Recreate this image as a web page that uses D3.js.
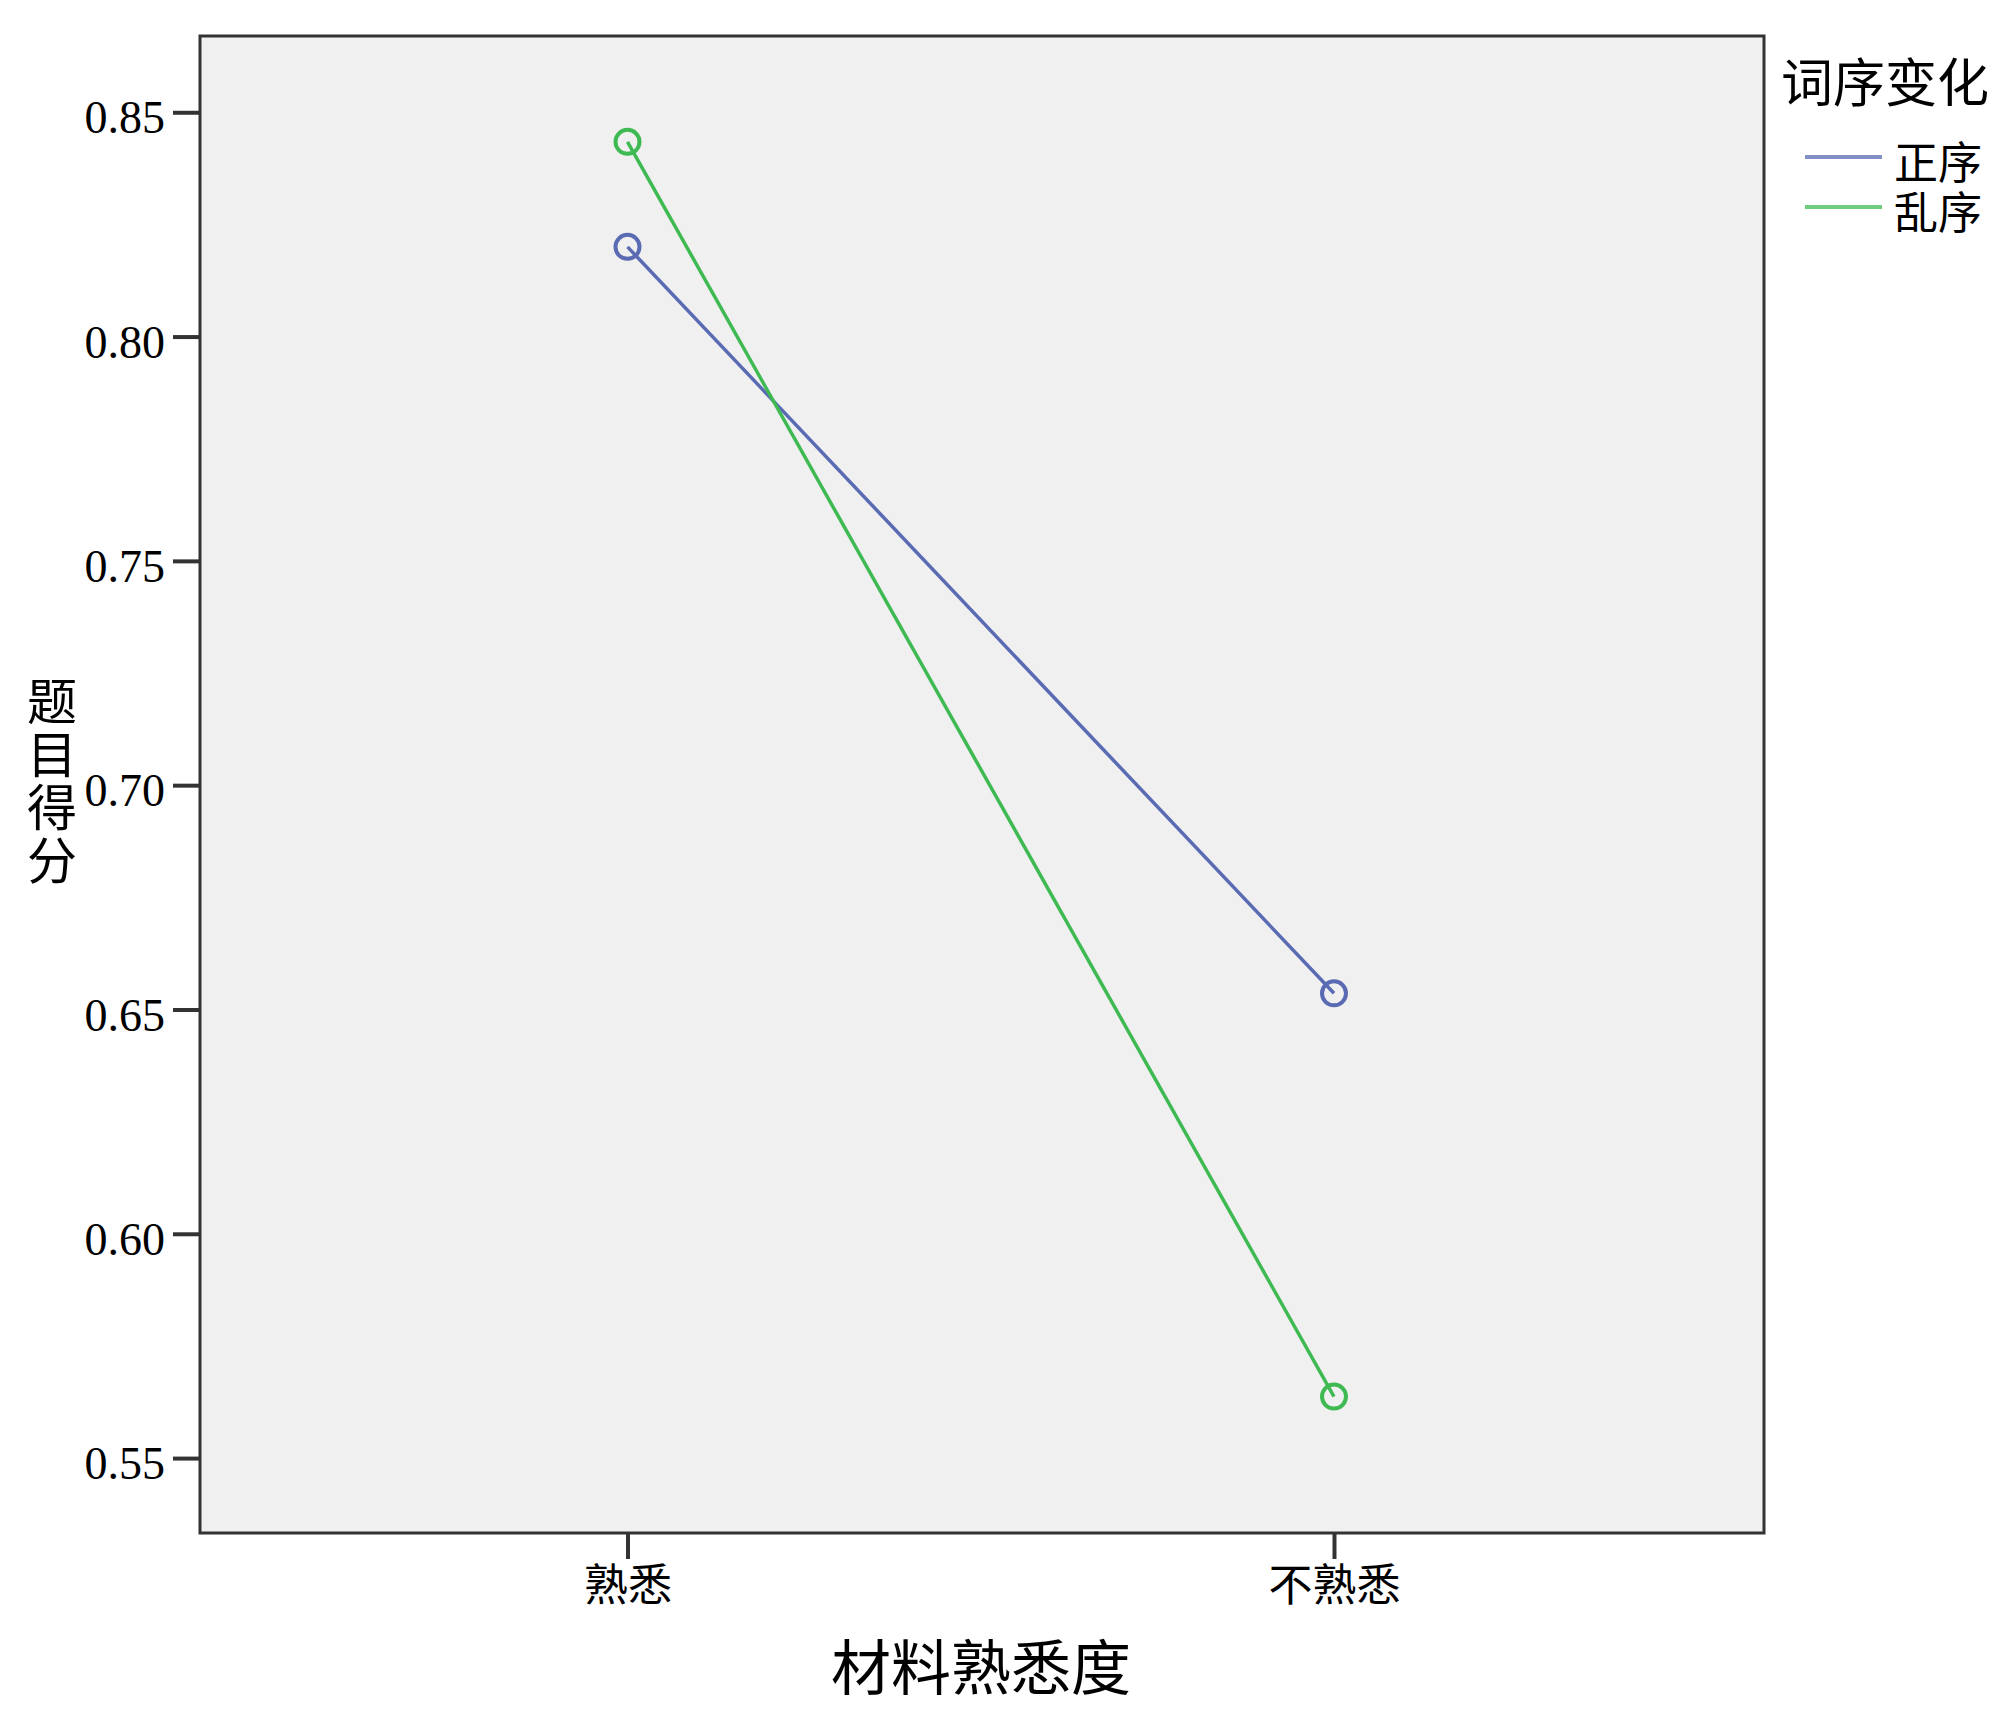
<!DOCTYPE html>
<html><head><meta charset="utf-8">
<script src="https://cdn.jsdelivr.net/npm/d3@7"></script>
<style>
body{margin:0;background:#fff;}
svg{display:block;}
</style></head>
<body>
<svg id="chart" width="2000" height="1710"></svg>
<script>
const categories = ["熟悉", "不熟悉"];
const seriesNames = ["正序", "乱序"];
const seriesZheng = [0.820, 0.6536];
const seriesLuan = [0.8434, 0.5637];
const yTicks = [0.55, 0.60, 0.65, 0.70, 0.75, 0.80, 0.85];
const colors = ["#5a6bb3", "#3fba52"];
const legendTitle = "词序变化";
const xTitle = "材料熟悉度";
const yTitle = "题目得分";

const svg = d3.select("#chart");
const L = 200, T = 36, R = 1764, B = 1533;
const cjk = "'Noto Sans CJK SC', sans-serif";
const serif = "'Liberation Serif', 'Times New Roman', serif";

const x = d3.scalePoint().domain(categories).range([627.5, 1334]);
const y = d3.scaleLinear().domain([0.5333, 0.867]).range([B, T]);

svg.append("rect").attr("x", L).attr("y", T).attr("width", R - L).attr("height", B - T)
  .attr("fill", "#f0f0f0").attr("stroke", "#333").attr("stroke-width", 3);

// Y axis
const ya = svg.append("g").attr("transform", `translate(${L},0)`)
  .call(d3.axisLeft(y).tickValues(yTicks).tickFormat(d3.format(".2f")).tickSize(27).tickPadding(8));
ya.select(".domain").remove();
ya.selectAll(".tick line").attr("stroke", "#333").attr("stroke-width", 4);
ya.selectAll(".tick text").attr("font-family", serif).attr("font-size", 46).attr("fill", "#000")
  .attr("dy", "0.45em");

// X axis
const xa = svg.append("g").attr("transform", `translate(0,${B})`)
  .call(d3.axisBottom(x).tickSize(26).tickPadding(6));
xa.select(".domain").remove();
xa.selectAll(".tick line").attr("stroke", "#333").attr("stroke-width", 4);
xa.selectAll(".tick text").attr("font-family", cjk).attr("font-size", 44).attr("fill", "#000")
  .attr("dy", "0.82em");

// titles
svg.append("text").attr("x", 981).attr("y", 1690).attr("text-anchor", "middle")
  .attr("font-family", cjk).attr("font-size", 60).attr("fill", "#000").text(xTitle);
svg.append("text").attr("x", 52).attr("y", 676)
  .attr("writing-mode", "vertical-rl").style("letter-spacing", "3px")
  .attr("font-family", cjk).attr("font-size", 50).attr("fill", "#000").text(yTitle);

// lines
const series = [seriesZheng, seriesLuan];
const line = d3.line().x((d, i) => x(categories[i])).y(d => y(d));
series.forEach((s, k) => {
  svg.append("path").datum(s).attr("d", line).attr("fill", "none")
    .attr("stroke", colors[k]).attr("stroke-width", 3.5);
  svg.selectAll(null).data(s).enter().append("circle")
    .attr("cx", (d, i) => x(categories[i])).attr("cy", d => y(d)).attr("r", 12)
    .attr("fill", "none").attr("stroke", colors[k]).attr("stroke-width", 4);
});

// legend
svg.append("text").attr("x", 1781).attr("y", 102).attr("font-family", cjk).attr("font-size", 52)
  .attr("fill", "#000").text(legendTitle);
const legText = svg.append("text").attr("font-family", cjk).attr("font-size", 44).attr("fill", "#000");
seriesNames.forEach((n, k) => {
  const yy = 157 + k * 50;
  svg.append("line").attr("x1", 1805).attr("x2", 1882).attr("y1", yy).attr("y2", yy)
    .attr("stroke", colors[k]).attr("stroke-width", 4).attr("opacity", 0.75);
  legText.append("tspan").attr("x", 1894).attr("y", yy + 22).text(n);
});
</script>
</body></html>
